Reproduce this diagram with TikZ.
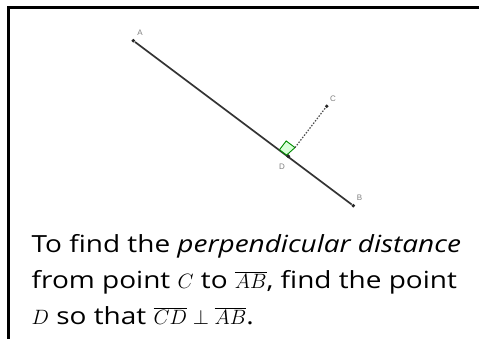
\documentclass[tikz,border=0pt]{standalone}
\usepackage{fontspec}
\usetikzlibrary{calc}
\setmainfont[FakeStretch=1.185]{Open Sans}
\newfontfamily\labelfont{Liberation Sans}
\newcommand\mymath[1]{{\fontsize{21.5}{24}\selectfont\(#1\)}}
\begin{document}
\begin{tikzpicture}[x=1pt,y=-1pt,
  pt/.style={circle,fill=black!85,inner sep=0pt,minimum size=3.8pt},
  ptlabel/.style={text=black!50,font=\labelfont\fontsize{8}{9}\selectfont,inner sep=0pt},
  txt/.style={anchor=base west,inner sep=0pt,font=\fontsize{23.6}{28}\selectfont},
  frame/.style={line width=2.5pt,black}]
\useasboundingbox (0,0) rectangle (479,339);
\draw[frame] (8.5,339) -- (8.5,7.5) -- (479,7.5);
% points
\node[pt] (A) at (133.3,40.7) {};
\node[pt] (B) at (353.3,205.7) {};
\node[pt] (C) at (326.7,106.2) {};
\node[pt] (D) at (288.3,156.3) {};
% right-angle mark
\coordinate (s1) at ($(D)!11pt!(A)$);
\coordinate (s2) at ($(D)!11pt!(C)$);
\coordinate (s3) at ($(s1)+(s2)-(D)$);
\draw[line width=1.7pt,black!80] (A) -- (B);
\filldraw[draw=green!55!black,fill=green!15,line width=0.9pt] (D) -- (s1) -- (s3) -- (s2) -- cycle;
\draw[black!70,line width=1.2pt,dash pattern=on 1.5pt off 1.5pt] (s2) -- (C);
\node[pt] at (D) {};
% labels
\node[ptlabel] (la) at (140,33) {A};
\node[ptlabel] (lb) at (359.5,198) {B};
\node[ptlabel] (lc) at (333,99) {C};
\node[ptlabel] (ld) at (282,167) {D};
% text
\node[txt] (l1) at (31.5,252) {To find the \textit{perpendicular distance}};
\node[txt] (l2) at (31.5,288) {from point \mymath{C} to \mymath{\overline{AB}}, find the point};
\node[txt] (l3) at (31.5,324) {\mymath{D} so that \mymath{\overline{CD}\perp\overline{AB}}.};
\end{tikzpicture}
\end{document}
